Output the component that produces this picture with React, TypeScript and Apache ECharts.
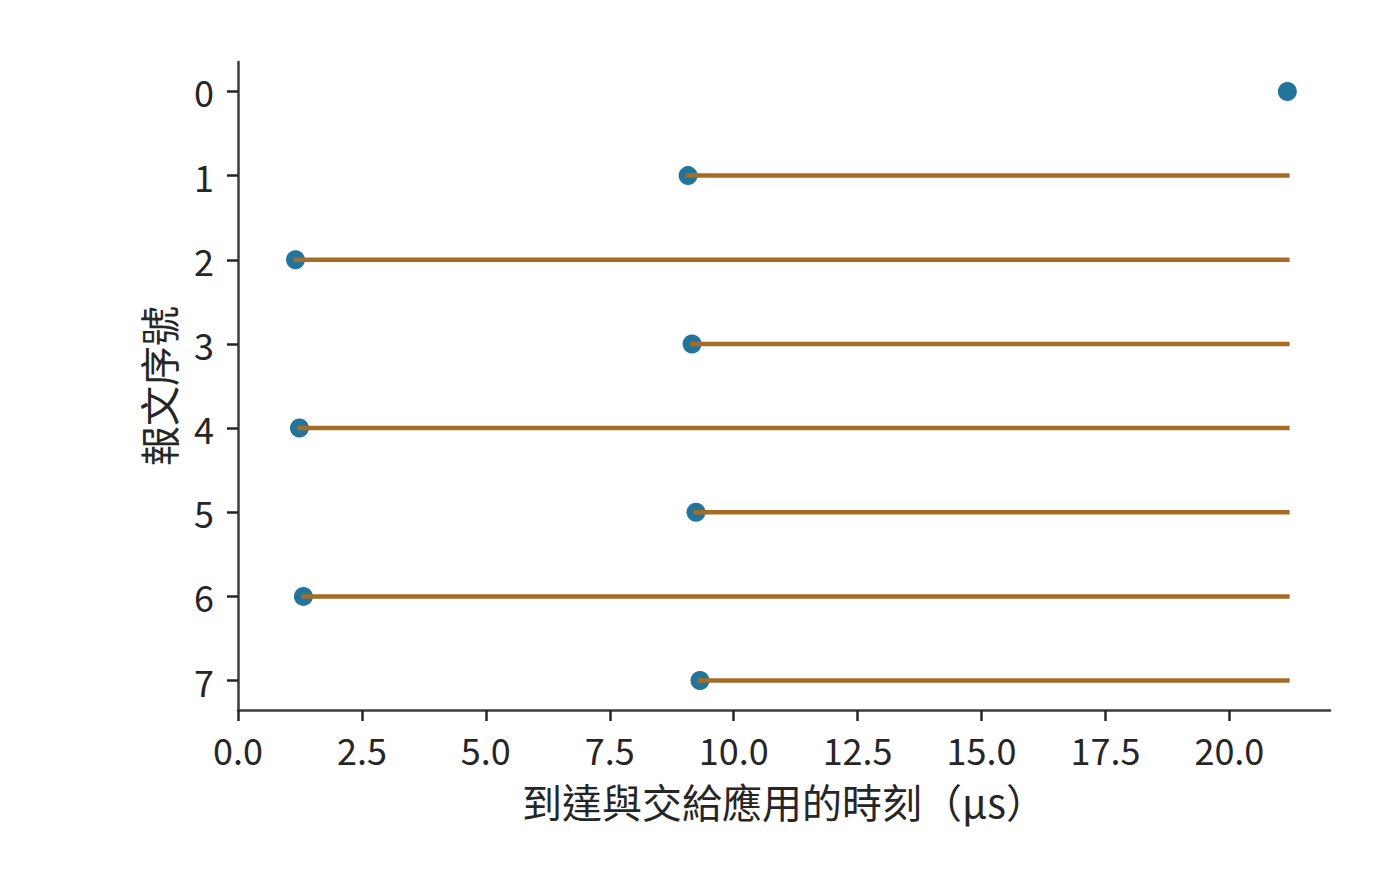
import React, { useEffect, useRef } from "react";
import * as echarts from "echarts";

const messageIds = [0, 1, 2, 3, 4, 5, 6, 7];
const arrivalTimes = [21.17, 9.08, 1.16, 9.16, 1.24, 9.24, 1.32, 9.32];
const deliveryTimes = [21.17, 21.17, 21.17, 21.17, 21.17, 21.17, 21.17, 21.17];
const xTickValues = [0, 2.5, 5, 7.5, 10, 12.5, 15, 17.5, 20];
const yTickValues = [0, 1, 2, 3, 4, 5, 6, 7];
const xAxisTitle = "到達與交給應用的時刻（μs）";
const yAxisTitle = "報文序號";

const FONT = '"Noto Sans CJK TC", "Noto Sans CJK SC", sans-serif';
const DOT = "#23749a";
const LINE = "#a66c25";
const INK = "#262626";
const SPINE = "#3c3c3c";

export default function App() {
  const ref = useRef<HTMLDivElement>(null);
  useEffect(() => {
    if (!ref.current) return;
    const chart = echarts.init(ref.current, null, { renderer: "svg" });
    const lineData = messageIds
      .map((id, i) => [arrivalTimes[i], deliveryTimes[i], id])
      .filter((d) => d[1] > d[0]);
    chart.setOption({
      animation: false,
      backgroundColor: "#ffffff",
      grid: { left: 238, right: 70, top: 62, bottom: 178 },
      xAxis: {
        type: "value",
        min: 0,
        max: 22.03,
        splitLine: { show: false },
        axisLine: { show: true, onZero: false, lineStyle: { color: SPINE, width: 2.5 } },
        axisTick: {
          show: true,
          length: 11,
          lineStyle: { color: INK, width: 2.5 },
          customValues: xTickValues,
        },
        axisLabel: {
          customValues: xTickValues,
          formatter: (v: number) => v.toFixed(1),
          color: INK,
          fontSize: 36,
          fontFamily: FONT,
          margin: 21,
        },
        name: xAxisTitle,
        nameLocation: "middle",
        nameGap: 71,
        nameTextStyle: { color: INK, fontSize: 40, fontFamily: FONT },
      },
      yAxis: {
        type: "value",
        inverse: true,
        min: -0.35,
        max: 7.35,
        splitLine: { show: false },
        axisLine: { show: true, onZero: false, lineStyle: { color: SPINE, width: 2.5 } },
        axisTick: {
          show: true,
          length: 11,
          lineStyle: { color: INK, width: 2.5 },
          customValues: yTickValues,
        },
        axisLabel: {
          customValues: yTickValues,
          formatter: (v: number) => String(v),
          color: INK,
          fontSize: 36,
          fontFamily: FONT,
          margin: 24,
        },
        name: yAxisTitle,
        nameLocation: "middle",
        nameRotate: 90,
        nameGap: 60,
        nameTextStyle: { color: INK, fontSize: 40, fontFamily: FONT },
      },
      series: [
        {
          type: "scatter",
          data: messageIds.map((id, i) => [arrivalTimes[i], id]),
          symbol: "circle",
          symbolSize: 19,
          itemStyle: { color: DOT, opacity: 1 },
          z: 2,
        },
        {
          type: "custom",
          data: lineData,
          z: 3,
          renderItem: (params: any, api: any) => {
            const start = api.coord([api.value(0), api.value(2)]);
            const end = api.coord([api.value(1), api.value(2)]);
            return {
              type: "line",
              shape: { x1: start[0], y1: start[1], x2: end[0], y2: end[1] },
              style: { stroke: LINE, lineWidth: 4.5, lineCap: "square" },
            };
          },
        },
      ],
    });
    return () => chart.dispose();
  }, []);
  return (
    <div
      ref={ref}
      style={{ position: "absolute", left: 0, top: 0, width: 1400, height: 888 }}
    />
  );
}
